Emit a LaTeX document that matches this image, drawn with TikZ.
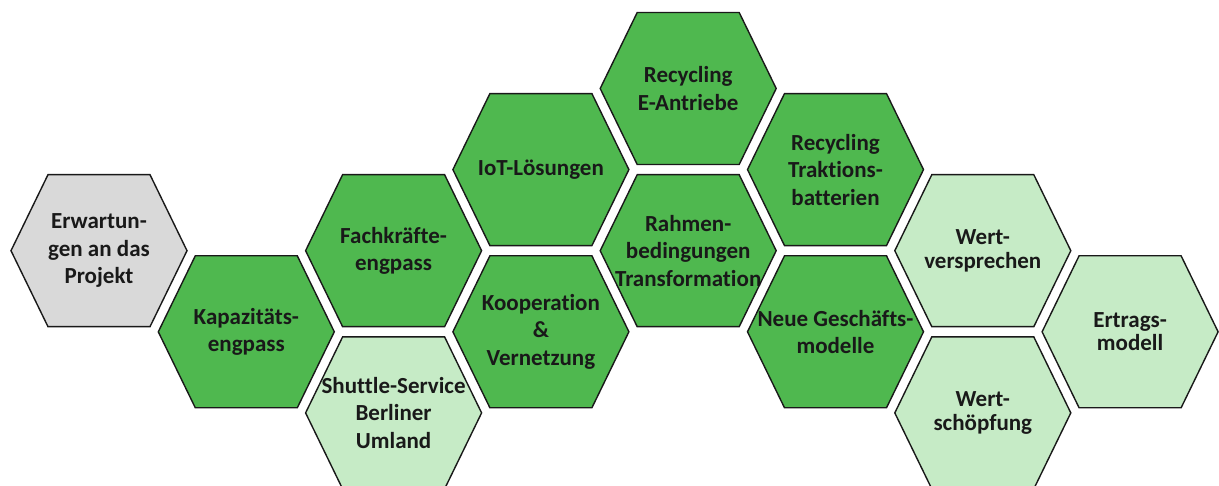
\documentclass[tikz,border=0pt]{standalone}
\usepackage{fontspec}
\setmainfont{Carlito}[Ligatures=NoCommon]
\definecolor{cellgreen}{HTML}{4FB84F}
\definecolor{cellpale}{HTML}{C6EBC6}
\definecolor{cellgray}{HTML}{D9D9D9}
\tikzset{
  x=1pt, y=-1pt,
  cellborder/.style={draw=black!90, line width=1.4pt, line join=miter},
  celltext/.style={align=center, inner sep=0pt, text=black!90,
    font=\bfseries\fontsize{23}{27.5}\selectfont},
  tighttext/.style={celltext, font=\bfseries\fontsize{23}{23.5}\selectfont},
}
% honeycomb cell: name, column, row, fill, text style, label
\newcommand\honeycell[6]{%
  \pgfmathsetmacro\cellx{99+147.3*#2}%
  \pgfmathsetmacro\celly{88.5+81.1*#3}%
  \begin{scope}[shift={(\cellx,\celly)}]
    \draw[cellborder, fill=#4] (-88,0) -- (-51,-76) -- (51,-76) -- (88,0)
      -- (51,76) -- (-51,76) -- cycle;
    \node[#5] (#1) at (0,0) {#6};
  \end{scope}}
\begin{document}
\begin{tikzpicture}
  \clip (0,0) rectangle (1219,486);
  \fill[white] (0,0) rectangle (1219,486);
  \honeycell{erw}{0}{2}{cellgray}{celltext}{Erwartun-\\gen an das\\Projekt}
  \honeycell{kap}{1}{3}{cellgreen}{celltext}{Kapazitäts-\\engpass}
  \honeycell{fach}{2}{2}{cellgreen}{celltext}{Fachkräfte-\\engpass}
  \honeycell{shut}{2}{4}{cellpale}{celltext}{Shuttle-Service\\Berliner\\Umland}
  \honeycell{iot}{3}{1}{cellgreen}{celltext}{IoT-Lösungen}
  \honeycell{koop}{3}{3}{cellgreen}{celltext}{Kooperation\\\&\\Vernetzung}
  \honeycell{recea}{4}{0}{cellgreen}{celltext}{Recycling\\E-Antriebe}
  \honeycell{rahm}{4}{2}{cellgreen}{celltext}{Rahmen-\\bedingungen\\Transformation}
  \honeycell{recta}{5}{1}{cellgreen}{celltext}{Recycling\\Traktions-\\batterien}
  \honeycell{neue}{5}{3}{cellgreen}{celltext}{Neue Geschäfts-\\modelle}
  \honeycell{wertv}{6}{2}{cellpale}{tighttext}{Wert-\\versprechen}
  \honeycell{werts}{6}{4}{cellpale}{tighttext}{Wert-\\schöpfung}
  \honeycell{ertr}{7}{3}{cellpale}{tighttext}{Ertrags-\\modell}
\end{tikzpicture}
\end{document}
